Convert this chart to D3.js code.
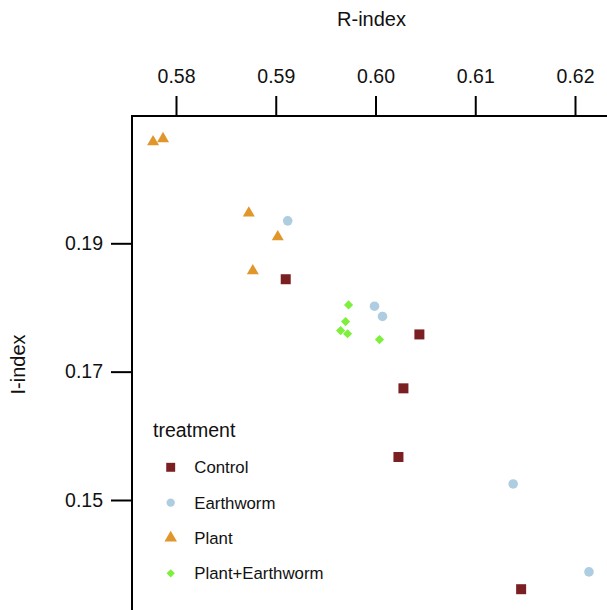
<!DOCTYPE html>
<html>
<head>
<meta charset="utf-8">
<script src="https://cdn.jsdelivr.net/npm/d3@7"></script>
<style>
  html, body { margin: 0; padding: 0; background: #fff; overflow: hidden; }
  text { font-family: "Liberation Sans", Arial, sans-serif; fill: #111; }
</style>
</head>
<body>
<svg id="chart" width="607" height="610"></svg>
<script>
// ---- data ----
const treatments = ["Control", "Earthworm", "Plant", "Plant+Earthworm"];
const colors = ["#7a1f22", "#afcde0", "#e0962a", "#7cf03a"];
const controlR = [0.5910, 0.6044, 0.6028, 0.6023, 0.6146];
const controlI = [0.1844, 0.1758, 0.1674, 0.1567, 0.1361];
const earthwormR = [0.5912, 0.5999, 0.6007, 0.6138, 0.6214];
const earthwormI = [0.1935, 0.1802, 0.1786, 0.1525, 0.1388];
const plantR = [0.5777, 0.5787, 0.5873, 0.5902, 0.5877];
const plantI = [0.2058, 0.2063, 0.1947, 0.1910, 0.1857];
const plantEwR = [0.5973, 0.5970, 0.5965, 0.5972, 0.6004];
const plantEwI = [0.1804, 0.1778, 0.1764, 0.1759, 0.1750];
const xTicks = [0.58, 0.59, 0.60, 0.61, 0.62];
const yTicks = [0.15, 0.17, 0.19];

const seriesR = [controlR, earthwormR, plantR, plantEwR];
const seriesI = [controlI, earthwormI, plantI, plantEwI];
const points = [];
treatments.forEach((t, k) => seriesR[k].forEach((r, i) => points.push({t, k, r, i: seriesI[k][i]})));

// ---- layout ----
const svg = d3.select("#chart");
const frameLeft = 132, frameTop = 116;
const x = d3.scaleLinear().domain([0.58, 0.62]).range([176, 575]);
const y = d3.scaleLinear().domain([0.15, 0.19]).range([500, 243.3]);

// frame (open to the right and bottom, cropped by the window)
svg.append("rect")
  .attr("x", frameLeft).attr("y", frameTop)
  .attr("width", 700).attr("height", 700)
  .attr("fill", "none").attr("stroke", "#000").attr("stroke-width", 2);

// axes
const xAxis = svg.append("g").attr("transform", `translate(0,${frameTop})`)
  .call(d3.axisTop(x).tickValues(xTicks).tickFormat(d3.format(".2f"))
        .tickSize(20).tickSizeOuter(0).tickPadding(13));
const yAxis = svg.append("g").attr("transform", `translate(${frameLeft},0)`)
  .call(d3.axisLeft(y).tickValues(yTicks).tickFormat(d3.format(".2f"))
        .tickSize(21).tickSizeOuter(0).tickPadding(8));
[xAxis, yAxis].forEach(g => {
  g.select(".domain").remove();
  g.selectAll(".tick line").attr("stroke", "#000").attr("stroke-width", 2);
  g.selectAll(".tick text").attr("font-size", 19.5)
    .attr("font-family", '"Liberation Sans", Arial, sans-serif').attr("fill", "#111");
});

// axis titles
svg.append("text").attr("x", 371.5).attr("y", 26).attr("text-anchor", "middle")
  .attr("font-size", 20).text("R-index");
svg.append("text").attr("transform", "translate(25,364.5) rotate(-90)")
  .attr("text-anchor", "middle").attr("font-size", 20).text("I-index");

// symbols
const symTypes = [d3.symbolSquare, d3.symbolCircle, d3.symbolTriangle, d3.symbolSquare];
const symSizes = [100, 72, 62, 42];
const symRot = [0, 0, 0, 45];

svg.append("g").selectAll("path").data(points).join("path")
  .attr("d", d => d3.symbol().type(symTypes[d.k]).size(symSizes[d.k])())
  .attr("transform", d => `translate(${x(d.r)},${y(d.i)}) rotate(${symRot[d.k]})`)
  .attr("fill", d => colors[d.k]);

// legend
const legend = svg.append("g");
legend.append("text").attr("x", 153).attr("y", 437).attr("font-size", 19.5).text("treatment");
const legSizes = [80, 55, 68, 34];
const legY = d3.scaleLinear().domain([0, 3]).range([467.3, 573.3]);
treatments.forEach((t, k) => {
  legend.append("path")
    .attr("d", d3.symbol().type(symTypes[k]).size(legSizes[k])())
    .attr("transform", `translate(170.7,${legY(k)}) rotate(${symRot[k]})`)
    .attr("fill", colors[k]);
  legend.append("text").attr("x", 194.3).attr("y", legY(k)).attr("dy", "0.36em")
    .attr("font-size", 16.8).text(t);
});
</script>
</body>
</html>
